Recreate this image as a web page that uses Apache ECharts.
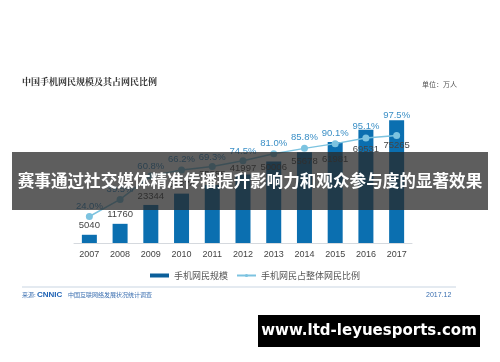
<!DOCTYPE html>
<html><head><meta charset="utf-8">
<script src="https://cdn.jsdelivr.net/npm/echarts@6/dist/echarts.min.js"></script>
<style>html,body{margin:0;padding:0;background:#fff}#c{width:500px;height:362px}</style>
</head><body><div id="c"></div>
<script>
const years = ['2007','2008','2009','2010','2011','2012','2013','2014','2015','2016','2017'];
const users = [5040, 11760, 23344, 30274, 35558, 41997, 50006, 55678, 61981, 69531, 75265];
const ratio = [24.0, 39.5, 60.8, 66.2, 69.3, 74.5, 81.0, 85.8, 90.1, 95.1, 97.5];
const seriesNames = ['手机网民规模', '手机网民占整体网民比例'];

// label placement tweaks (layout only)
const barLabelShift = [0, 0, 0, 0, -2, 3, 15, 18, 26, 29, 34];
const lineLabelShift = [2, 2, 3, 2, 3, 3, 2, 2, 2, 1, -8];

const chart = echarts.init(document.getElementById('c'), null, {renderer: 'canvas'});
const FONT = '"Noto Sans CJK SC", "Noto Sans", sans-serif';
chart.setOption({
  animation: false,
  textStyle: {fontFamily: FONT},
  grid: {left: 74, right: 88, top: 93, bottom: 119},
  legend: {
    left: 145, top: 266, itemGap: 8,
    textStyle: {fontSize: 9, color: '#555', fontFamily: FONT},
    data: [
      {name: seriesNames[0], icon: 'rect', itemStyle: {color: '#0b5f9a'}},
      {name: seriesNames[1]}
    ],
    itemWidth: 19, itemHeight: 4
  },
  xAxis: {
    type: 'category', data: years,
    axisLine: {lineStyle: {color: '#d5d9de'}},
    axisTick: {show: false},
    axisLabel: {color: '#444', fontSize: 9, margin: 7, fontFamily: '"Liberation Sans", Arial, sans-serif'}
  },
  yAxis: [
    {type: 'value', min: 0, max: 92000, show: false, splitLine: {show: false}},
    {type: 'value', min: 0, max: 136, show: false, splitLine: {show: false}}
  ],
  series: [
    {
      name: seriesNames[0], type: 'bar', barWidth: 15,
      itemStyle: {color: '#0b6fb0'},
      data: users.map((v, i) => ({value: v, label: {offset: [0, barLabelShift[i]]}})),
      label: {show: true, position: 'top', color: '#444', fontSize: 9.5, distance: 4,
              fontFamily: '"Liberation Sans", Arial, sans-serif'},
      z: 2
    },
    {
      name: seriesNames[1], type: 'line', yAxisIndex: 1,
      symbol: 'circle', symbolSize: 7,
      lineStyle: {color: '#7cc3e0', width: 1.5},
      itemStyle: {color: '#7cc3e0'},
      data: ratio.map((v, i) => ({value: v, label: {offset: [0, lineLabelShift[i]]}})),
      label: {show: true, position: 'top', color: '#3b8fc6', fontSize: 9.5, distance: 4,
              formatter: p => p.value.toFixed(1) + '%',
              fontFamily: '"Liberation Sans", Arial, sans-serif'},
      z: 3
    }
  ],
  graphic: [
    {type: 'text', left: 22, top: 77, style: {text: '中国手机网民规模及其占网民比例', font: 'bold 9px "Noto Serif CJK SC", "Noto Sans CJK SC", serif', fill: '#333'}},
    {type: 'text', left: 422, top: 81, style: {text: '单位：万人', font: '7px ' + FONT, fill: '#555'}},
    {type: 'line', shape: {x1: 22, y1: 287, x2: 456, y2: 287}, style: {stroke: '#c9d5e2', lineWidth: 1}},
    {type: 'text', left: 22, top: 292, style: {text: '来源:', font: '6px ' + FONT, fill: '#3b6fb0'}},
    {type: 'text', left: 37, top: 291, style: {text: 'CNNIC', font: 'bold 8px "Liberation Sans", Arial, sans-serif', fill: '#1f63b5'}},
    {type: 'text', left: 68, top: 292, style: {text: '中国互联网络发展状况统计调查', font: '6px ' + FONT, fill: '#3b6fb0'}},
    {type: 'text', left: 426, top: 292, style: {text: '2017.12', font: '7px "Liberation Sans", Arial, sans-serif', fill: '#3b6fb0'}},
    {type: 'rect', z: 100, shape: {x: 12, y: 152, width: 476, height: 58}, style: {fill: 'rgba(40,40,40,0.75)'}},
    {type: 'text', z: 101, x: 250, y: 181, style: {text: '赛事通过社交媒体精准传播提升影响力和观众参与度的显著效果', font: 'bold 16.6px ' + FONT, fill: '#fff', align: 'center', verticalAlign: 'middle'}},
    {type: 'rect', z: 100, shape: {x: 258, y: 315, width: 222, height: 32}, style: {fill: '#000'}},
    {type: 'text', z: 101, x: 369, y: 331, style: {text: 'www.ltd-leyuesports.com', font: 'bold 15px "DejaVu Sans", sans-serif', fill: '#fff', align: 'center', verticalAlign: 'middle'}}
  ]
});
</script>
</body></html>
